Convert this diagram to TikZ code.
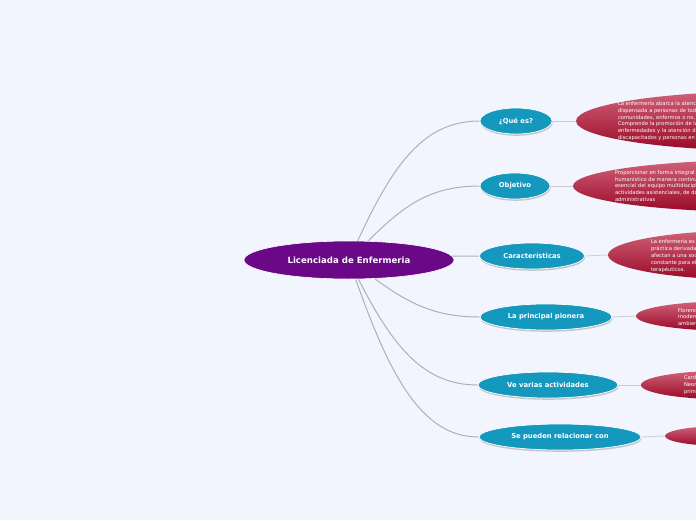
\documentclass[tikz,border=0pt]{standalone}
\usepackage{fontspec}
\setmainfont{DejaVu Sans}
\usetikzlibrary{shapes.geometric,shadows,calc}
\definecolor{bgc}{HTML}{F2F5FD}
\definecolor{purp}{HTML}{6A0887}
\definecolor{teal}{HTML}{1598BE}
\definecolor{lnk}{HTML}{ABB0BA}
\definecolor{lnk2}{HTML}{C9CDD5}
\definecolor{redtop}{HTML}{D0627A}
\definecolor{redbot}{HTML}{9A0826}
\pgfdeclarelayer{back}
\pgfsetlayers{back,main}
\tikzset{
  central/.style={ellipse, fill=purp, draw=white, line width=0.6pt, inner sep=0pt,
    minimum width=210pt, minimum height=38pt, text=white,
    font=\fontsize{8.6}{10}\selectfont\bfseries},
  topic/.style={ellipse, fill=teal, draw=white, line width=0.7pt, inner sep=0pt,
    minimum height=26pt, text=white, font=\fontsize{6.8}{8}\selectfont\bfseries,
    drop shadow={shadow xshift=0.6pt, shadow yshift=-1.8pt, fill=black!35, opacity=0.6}},
  subnode/.style={ellipse, top color=redtop, bottom color=redbot, draw=none, inner sep=0pt},
  redtext/.style={anchor=west, align=left, inner sep=0pt, text=white,
    font=\fontsize{5.2}{6.8}\selectfont},
  link/.style={draw=lnk, line width=1pt},
  link2/.style={draw=lnk2, line width=0.8pt}
}
\begin{document}
\begin{tikzpicture}[x=1pt,y=-1pt]
\useasboundingbox (0,0) rectangle (696,520);
\begin{pgfonlayer}{back}
\fill[bgc] (0,0) rectangle (696,520);
\end{pgfonlayer}
\clip (0,0) rectangle (696,520);

\node[central] (c) at (349,260) {Licenciada de Enfermeria};

\node[topic, minimum width=72pt] (q) at (516,121) {¿Qué es?};
\node[topic, minimum width=70pt] (o) at (515,186) {Objetivo};
\node[topic, minimum width=105pt] (k) at (532,256) {Características};
\node[topic, minimum width=132pt] (p) at (546,317) {La principal pionera};
\node[topic, minimum width=140pt] (v) at (548,385) {Ve varias actividades};
\node[topic, minimum width=162pt] (s) at (560,437) {Se pueden relacionar con};

\node[subnode, minimum width=400pt, minimum height=60pt] (r1) at (776,121) {};
\node[subnode, minimum width=380pt, minimum height=52pt] (r2) at (763,186) {};
\node[subnode, minimum width=300pt, minimum height=50pt] (r3) at (758,255) {};
\node[subnode, minimum width=200pt, minimum height=30pt] (r4) at (736,316) {};
\node[subnode, minimum width=180pt, minimum height=29pt] (r5) at (731,385) {};
\node[subnode, minimum width=120pt, minimum height=20pt] (r6) at (725,436) {};

\node[redtext] (t1) at ([xshift=42pt]r1.west) {La enfermería abarca la atención autónoma\\dispensada a personas de todas las edades,\\comunidades, enfermos o no, y en todas\\Comprende la promoción de la salud,\\enfermedades y la atención dispensada\\discapacitados y personas en situación};
\node[redtext] (t2) at ([xshift=42pt]r2.west) {Proporcionar en forma integral\\humanístico de manera continua\\esencial del equipo multidisciplinario\\actividades asistenciales, de docencia\\administrativas};
\node[redtext] (t3) at ([xshift=43pt,yshift=-1pt]r3.west) {La enfermería es una\\práctica derivada de\\afectan a una sociedad\\constante para el cuidado\\terapéuticos.};
\node[redtext] (t4) at ([xshift=42pt,yshift=-1pt]r4.west) {Florence\\moderna\\ambiente};
\node[redtext] (t5) at ([xshift=43pt]r5.west) {Cardiología\\Neonatología\\primeros};

\begin{pgfonlayer}{back}
\draw[link] (c.center) .. controls +(40,-90) and +(-60,0) .. (q.west);
\draw[link] (c.center) .. controls +(45,-45) and +(-60,0) .. (o.west);
\draw[link] (c.center) .. controls +(45,-3) and +(-45,0) .. (k.west);
\draw[link] (c.center) .. controls +(45,32) and +(-60,0) .. (p.west);
\draw[link] (c.center) .. controls +(39,81) and +(-58,0) .. (v.west);
\draw[link] (c.center) .. controls +(39,115) and +(-58,0) .. (s.west);
\draw[link2] (q.east) -- (r1.west);
\draw[link2] (o.east) -- (r2.west);
\draw[link2] (k.east) -- (r3.west);
\draw[link2] (p.east) -- (r4.west);
\draw[link2] (v.east) -- (r5.west);
\draw[link2] (s.east) -- (r6.west);
\end{pgfonlayer}
\end{tikzpicture}
\end{document}
